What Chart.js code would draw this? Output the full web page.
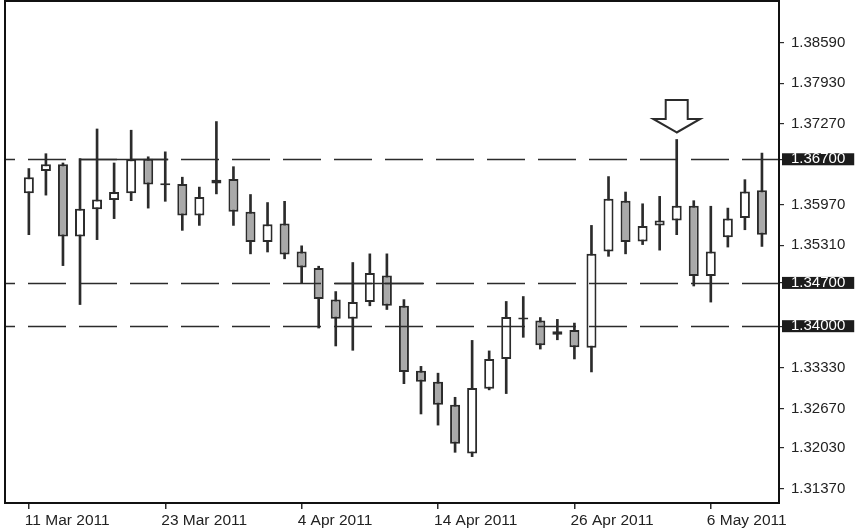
<!DOCTYPE html>
<html>
<head>
<meta charset="utf-8">
<script src="https://cdn.jsdelivr.net/npm/chart.js@4.4.0/dist/chart.umd.min.js"></script>
<style>
  html, body { margin: 0; padding: 0; background: #fff; }
  canvas { display: block; }
</style>
</head>
<body>
<canvas id="candles" width="859" height="531"></canvas>
<script>
// daily candles
var days = ['11 Mar 2011', '14 Mar 2011', '15 Mar 2011', '16 Mar 2011', '17 Mar 2011', '18 Mar 2011',
  '21 Mar 2011', '22 Mar 2011', '23 Mar 2011', '24 Mar 2011', '25 Mar 2011', '28 Mar 2011',
  '29 Mar 2011', '30 Mar 2011', '31 Mar 2011', '1 Apr 2011', '4 Apr 2011', '5 Apr 2011',
  '6 Apr 2011', '7 Apr 2011', '8 Apr 2011', '11 Apr 2011', '12 Apr 2011', '13 Apr 2011',
  '14 Apr 2011', '15 Apr 2011', '18 Apr 2011', '19 Apr 2011', '20 Apr 2011', '21 Apr 2011',
  '22 Apr 2011', '25 Apr 2011', '26 Apr 2011', '27 Apr 2011', '28 Apr 2011', '29 Apr 2011',
  '2 May 2011', '3 May 2011', '4 May 2011', '5 May 2011', '6 May 2011', '9 May 2011',
  '10 May 2011', '11 May 2011'];
var open = [1.3615, 1.3651, 1.3662, 1.3545, 1.3589, 1.3604, 1.3615, 1.3671, 1.3628, 1.3630, 1.3579,
  1.3631, 1.3638, 1.3585, 1.3536, 1.3566, 1.3521, 1.3494, 1.3443, 1.3412, 1.3439, 1.3482,
  1.3433, 1.3328, 1.3310, 1.3273, 1.3194, 1.3299, 1.3347, 1.3411, 1.3409, 1.3386, 1.3394,
  1.3365, 1.3521, 1.3603, 1.3537, 1.3563, 1.3571, 1.3595, 1.3481, 1.3544, 1.3575, 1.3620];
var high = [1.3655, 1.3679, 1.3664, 1.3671, 1.3719, 1.3664, 1.3717, 1.3674, 1.3682, 1.3641, 1.3625,
  1.3731, 1.3658, 1.3613, 1.3600, 1.3602, 1.3530, 1.3497, 1.3456, 1.3503, 1.3517, 1.3517,
  1.3443, 1.3335, 1.3324, 1.3285, 1.3377, 1.3360, 1.3440, 1.3448, 1.3414, 1.3411, 1.3405,
  1.3563, 1.3642, 1.3617, 1.3598, 1.3610, 1.3702, 1.3603, 1.3594, 1.3591, 1.3637, 1.3680];
var low = [1.3548, 1.3612, 1.3498, 1.3435, 1.3540, 1.3574, 1.3603, 1.3591, 1.3602, 1.3555, 1.3563,
  1.3614, 1.3563, 1.3517, 1.3520, 1.3509, 1.3470, 1.3397, 1.3368, 1.3361, 1.3433, 1.3427,
  1.3307, 1.3258, 1.3240, 1.3196, 1.3189, 1.3297, 1.3291, 1.3382, 1.3363, 1.3378, 1.3347,
  1.3326, 1.3513, 1.3517, 1.3532, 1.3523, 1.3548, 1.3465, 1.3439, 1.3528, 1.3556, 1.3529];
var close = [1.3641, 1.3662, 1.3545, 1.3590, 1.3605, 1.3617, 1.3670, 1.3629, 1.3628, 1.3579, 1.3609,
  1.3637, 1.3585, 1.3536, 1.3565, 1.3516, 1.3495, 1.3444, 1.3412, 1.3439, 1.3486, 1.3433,
  1.3326, 1.3310, 1.3273, 1.3210, 1.3300, 1.3347, 1.3415, 1.3414, 1.3369, 1.3392, 1.3366,
  1.3517, 1.3606, 1.3536, 1.3562, 1.3571, 1.3595, 1.3481, 1.3521, 1.3574, 1.3618, 1.3548];

var priceTicks = [1.3859, 1.3793, 1.3727, 1.3670, 1.3597, 1.3531, 1.3470, 1.3400, 1.3333, 1.3267, 1.3203, 1.3137];
var dateTicks = [0, 8, 16, 24, 32, 40];

// support / resistance
var levels = [1.3670, 1.3470, 1.3400];
var trendLevel = [1.3670, 1.3470];
var trendFrom = [3, 18];
var trendTo = [8, 23];
var markedDay = 38;

var INK = '#2b2b2b';
var FONT = "'Liberation Sans', Arial, sans-serif";

var wicks = [], bodies = [];
for (var i = 0; i < days.length; i++) {
  wicks.push({ x: i, y: [low[i], high[i]] });
  bodies.push({ x: i, y: [Math.min(open[i], close[i]), Math.max(open[i], close[i])] });
}

function isLevel(v) {
  return levels.some(function (l) { return Math.abs(l - v) < 1e-7; });
}

// frame, level lines, trend segments, arrow
var overlay = {
  id: 'overlay',
  afterDatasetsDraw: function (chart) {
    var ctx = chart.ctx, a = chart.chartArea;
    var xs = chart.scales.x, ys = chart.scales.y;
    ctx.save();
    ctx.strokeStyle = INK;
    ctx.lineWidth = 1.6;
    ctx.setLineDash([38, 13]);
    ctx.lineDashOffset = 28;
    levels.forEach(function (l) {
      var y = Math.round(ys.getPixelForValue(l)) + 0.5;
      ctx.beginPath();
      ctx.moveTo(a.left, y);
      ctx.lineTo(a.right, y);
      ctx.stroke();
    });
    ctx.setLineDash([]);
    for (var k = 0; k < trendLevel.length; k++) {
      var ty = Math.round(ys.getPixelForValue(trendLevel[k])) + 0.5;
      ctx.beginPath();
      ctx.moveTo(xs.getPixelForValue(trendFrom[k]) - 1, ty);
      ctx.lineTo(xs.getPixelForValue(trendTo[k]) + 3, ty);
      ctx.stroke();
    }

    // down arrow over the marked candle
    var ax = xs.getPixelForValue(markedDay);
    var tip = ys.getPixelForValue(high[markedDay]) - 7;
    ctx.beginPath();
    ctx.moveTo(ax, tip);
    ctx.lineTo(ax - 23.5, tip - 13.5);
    ctx.lineTo(ax - 11, tip - 13.5);
    ctx.lineTo(ax - 11, tip - 32.5);
    ctx.lineTo(ax + 11, tip - 32.5);
    ctx.lineTo(ax + 11, tip - 13.5);
    ctx.lineTo(ax + 23.5, tip - 13.5);
    ctx.closePath();
    ctx.fillStyle = '#fff';
    ctx.fill();
    ctx.lineWidth = 2;
    ctx.lineJoin = 'miter';
    ctx.stroke();

    ctx.lineWidth = 2;
    ctx.strokeStyle = '#111';
    ctx.strokeRect(a.left, a.top, a.right - a.left, a.bottom - a.top);
    ctx.restore();
  }
};

new Chart(document.getElementById('candles'), {
  type: 'bar',
  data: {
    datasets: [
      {
        label: 'range',
        data: wicks,
        backgroundColor: INK,
        borderWidth: 0,
        barThickness: 2,
        grouped: false,
        order: 2
      },
      {
        label: 'body',
        data: bodies,
        backgroundColor: function (c) {
          var i = c.dataIndex;
          return close[i] >= open[i] ? '#ffffff' : '#a9a9a9';
        },
        borderColor: INK,
        borderWidth: 2,
        borderSkipped: false,
        inflateAmount: 0,
        barThickness: 10,
        minBarLength: 2,
        grouped: false,
        order: 1
      }
    ]
  },
  options: {
    responsive: false,
    animation: false,
    layout: { padding: { left: 5, top: 1, right: 0, bottom: 0 } },
    plugins: { legend: { display: false }, tooltip: { enabled: false } },
    scales: {
      x: {
        type: 'linear',
        min: -1.4,
        max: 44,
        offset: false,
        afterBuildTicks: function (s) { s.ticks = dateTicks.map(function (v) { return { value: v }; }); },
        afterFit: function (s) { s.height = 28; s.paddingLeft = 0; s.paddingRight = 0; },
        grid: { offset: false, drawOnChartArea: false, tickLength: 6, tickColor: INK, lineWidth: 1.5 },
        border: { display: false },
        ticks: {
          autoSkip: false,
          maxRotation: 0,
          align: 'start',
          labelOffset: -4,
          padding: 2,
          color: '#222',
          font: { family: FONT, size: 15.5 },
          callback: function (v) { return days[v]; }
        }
      },
      y: {
        type: 'linear',
        position: 'right',
        min: 1.3114,
        max: 1.3926,
        afterBuildTicks: function (s) { s.ticks = priceTicks.map(function (v) { return { value: v }; }); },
        afterFit: function (s) { s.width = 80; s.paddingTop = 0; s.paddingBottom = 0; },
        grid: { drawOnChartArea: false, tickLength: 5, tickColor: INK, lineWidth: 1.2 },
        border: { display: false },
        ticks: {
          padding: 7,
          color: function (c) { return isLevel(c.tick.value) ? '#ffffff' : '#222'; },
          showLabelBackdrop: function (c) { return isLevel(c.tick.value); },
          backdropColor: '#1c1c1c',
          backdropPadding: { left: 9, right: 9, top: -3, bottom: -3 },
          font: { family: FONT, size: 15 },
          callback: function (v) { return v.toFixed(5); }
        }
      }
    }
  },
  plugins: [overlay]
});
</script>
</body>
</html>
